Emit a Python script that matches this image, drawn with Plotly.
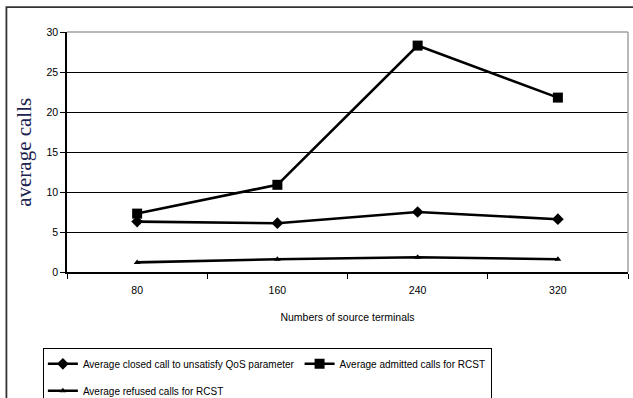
import plotly.graph_objects as go

# Number of source terminals (x categories)
terminals = ["80", "160", "240", "320"]

# Average call counts per scenario
closed_calls = [6.3, 6.1, 7.5, 6.6]
admitted_calls = [7.3, 10.9, 28.3, 21.8]
refused_calls = [1.2, 1.6, 1.85, 1.6]

series_names = [
    "Average closed call to unsatisfy QoS parameter",
    "Average admitted calls for RCST",
    "Average refused calls for RCST",
]
y_ticks = [0, 5, 10, 15, 20, 25, 30]
y_grid = [5, 10, 15, 20, 25]

series = [
    (series_names[0], closed_calls, "diamond", 9),
    (series_names[1], admitted_calls, "square", 10),
    (series_names[2], refused_calls, "triangle-up", 6),
]

fig = go.Figure()
for i, (name, vals, sym, size) in enumerate(series):
    fig.add_trace(go.Scatter(
        x=terminals, y=vals, name=name, mode="lines+markers",
        line=dict(color="black", width=2.6),
        marker=dict(symbol=sym, size=size, color="black"),
        legendgroup=f"g{i}",
    ))

fig.update_layout(
    width=633, height=398,
    margin=dict(l=67, r=5, t=32, b=126, autoexpand=False),
    paper_bgcolor="white", plot_bgcolor="white",
    font=dict(family="Liberation Sans, Arial, sans-serif", color="black", size=10),
    showlegend=True,
    legend=dict(
        orientation="h", x=-0.043, y=-0.317, xanchor="left", yanchor="top",
        bordercolor="black", borderwidth=1.2, bgcolor="white",
        font=dict(size=10, color="black"),
        traceorder="grouped", tracegroupgap=8,
    ),
    xaxis=dict(
        type="category", range=[-0.5, 3.5], tickson="boundaries",
        ticks="outside", ticklen=5, tickcolor="black", tickwidth=1.3,
        showline=True, linecolor="black", linewidth=1.5, showgrid=False,
        tickfont=dict(size=10.5), ticklabelstandoff=8,
        title=dict(text="Numbers of source terminals", font=dict(size=10.5), standoff=18),
    ),
    yaxis=dict(
        range=[0, 30], tickvals=y_ticks, ticks="outside", ticklen=5,
        tickcolor="black", tickwidth=1.3, showline=True, linecolor="black",
        linewidth=1.5, showgrid=False, zeroline=False, tickfont=dict(size=10.5),
        minor=dict(tickvals=y_grid, showgrid=True, gridcolor="black", gridwidth=1.2),
    ),
    annotations=[dict(
        text="average calls", xref="paper", yref="paper", x=-0.077, y=0.5,
        textangle=-90, showarrow=False, xanchor="center", yanchor="middle",
        font=dict(family="Liberation Serif, Times New Roman, serif", size=21, color="#1c2250"),
    )],
    shapes=[
        # outer chart frame
        dict(type="rect", xref="paper", yref="paper", x0=-0.108, x1=1.03, y0=-0.65, y1=1.104,
             line=dict(color="#333333", width=1.8), layer="below"),
        # light plot-area border on top and right
        dict(type="line", xref="paper", yref="paper", x0=0, x1=1, y0=1, y1=1,
             line=dict(color="#a0a0a0", width=1.5), layer="above"),
        dict(type="line", xref="paper", yref="paper", x0=1, x1=1, y0=0, y1=1,
             line=dict(color="#a0a0a0", width=1.5), layer="above"),
    ],
)

fig.write_html("out.html")
